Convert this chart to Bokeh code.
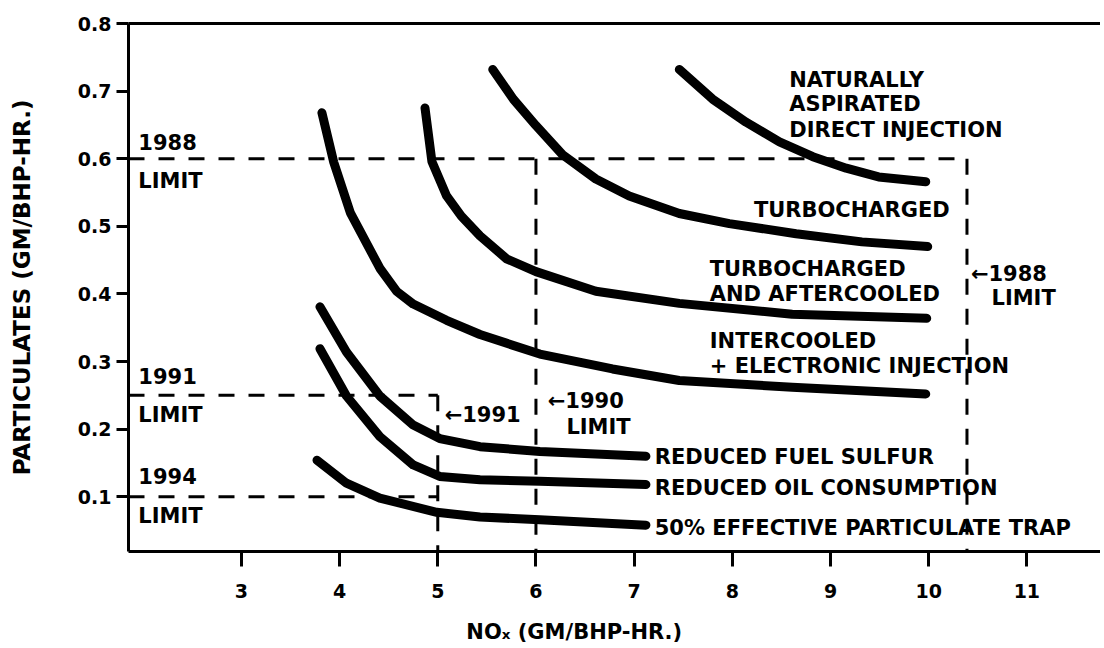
from bokeh.plotting import figure
from bokeh.models import Range1d, LinearAxis, FixedTicker, ColumnDataSource
from bokeh.core.properties import value
from bokeh.embed import file_html
from bokeh.resources import INLINE

# ---------------- data ----------------
X_TICKS = [3, 4, 5, 6, 7, 8, 9, 10, 11]
Y_TICKS = [0.1, 0.2, 0.3, 0.4, 0.5, 0.6, 0.7, 0.8]

na_x = [7.46, 7.80, 8.14, 8.48, 8.82, 9.16, 9.49, 9.97]
na_y = [0.732, 0.688, 0.654, 0.625, 0.603, 0.586, 0.573, 0.566]

tc_x = [5.56, 5.77, 6.00, 6.27, 6.61, 6.95, 7.46, 7.97, 8.65, 9.32, 9.99]
tc_y = [0.732, 0.688, 0.649, 0.606, 0.570, 0.545, 0.519, 0.504, 0.489, 0.477, 0.470]

tcac_x = [4.87, 4.94, 5.09, 5.24, 5.43, 5.70, 6.00, 6.61, 7.46, 8.61, 9.98]
tcac_y = [0.675, 0.596, 0.545, 0.515, 0.486, 0.452, 0.433, 0.404, 0.386, 0.370, 0.364]

ic_x = [3.82, 3.94, 4.11, 4.41, 4.58, 4.75, 5.09, 5.43, 6.04, 6.78, 7.46, 8.61, 9.97]
ic_y = [0.668, 0.595, 0.520, 0.438, 0.404, 0.385, 0.361, 0.340, 0.311, 0.289, 0.272, 0.262, 0.252]

sulfur_x = [3.80, 4.07, 4.41, 4.75, 5.02, 5.43, 6.04, 7.12]
sulfur_y = [0.381, 0.314, 0.249, 0.206, 0.186, 0.174, 0.167, 0.160]

oil_x = [3.80, 4.07, 4.41, 4.75, 5.02, 5.43, 6.04, 7.12]
oil_y = [0.319, 0.249, 0.189, 0.147, 0.130, 0.125, 0.123, 0.118]

trap_x = [3.77, 4.07, 4.41, 4.99, 5.43, 6.04, 7.12]
trap_y = [0.154, 0.120, 0.098, 0.077, 0.070, 0.066, 0.058]

# regulatory limits
LIMIT_1988_PM = 0.6
LIMIT_1988_NOX = 10.39
LIMIT_1990_NOX = 6.0
LIMIT_1991_PM = 0.25
LIMIT_1991_NOX = 5.0
LIMIT_1994_PM = 0.1

# annotation texts (data coordinates)
label_text = [
    "NATURALLY", "ASPIRATED", "DIRECT INJECTION",
    "TURBOCHARGED",
    "TURBOCHARGED", "AND AFTERCOOLED",
    "INTERCOOLED", "+ ELECTRONIC INJECTION",
    "\u21901988", "LIMIT",
    "1988", "LIMIT", "1991", "LIMIT", "1994", "LIMIT",
    "\u21901991",
    "\u21901990", "LIMIT",
    "REDUCED FUEL SULFUR", "REDUCED OIL CONSUMPTION", "50% EFFECTIVE PARTICULATE TRAP",
]
label_x = [
    8.58, 8.58, 8.58,
    8.22,
    7.77, 7.77,
    7.77, 7.77,
    10.43, 10.64,
    1.95, 1.95, 1.95, 1.95, 1.95, 1.95,
    5.07,
    6.12, 6.31,
    7.21, 7.21, 7.21,
]
label_y = [
    0.716, 0.681, 0.643,
    0.524,
    0.437, 0.400,
    0.330, 0.294,
    0.430, 0.394,
    0.625, 0.567, 0.279, 0.221, 0.130, 0.071,
    0.221,
    0.242, 0.203,
    0.159, 0.113, 0.054,
]

X_TITLE = "NO\u2093 (GM/BHP-HR.)"
Y_TITLE = "PARTICULATES (GM/BHP-HR.)"
# the original x title sits left of the frame centre: pad it on the right
X_TITLE_PAD = "\u00a0" * 11

FONT = "DejaVu Sans"

X0, X1 = 1.85, 11.75
Y0, Y1 = 0.019, 0.8

p = figure(width=1100, height=646,
           x_range=Range1d(X0, X1), y_range=Range1d(Y0, Y1),
           output_backend="svg", toolbar_location=None,
           min_border_left=128, min_border_right=0,
           min_border_top=23, min_border_bottom=94)
p.grid.visible = False
p.outline_line_color = None
p.background_fill_color = "white"
p.border_fill_color = "white"

for ax in (p.xaxis, p.yaxis):
    ax.axis_line_width = 3
    ax.axis_line_color = "black"
    ax.major_tick_line_width = 3
    ax.major_tick_line_color = "black"
    ax.major_tick_in = 0
    ax.minor_tick_line_color = None
    ax.major_label_text_font = FONT
    ax.major_label_text_font_style = "bold"
    ax.major_label_text_font_size = "19px"
    ax.major_label_text_color = "black"
    ax.axis_label_text_font = FONT
    ax.axis_label_text_font_style = "bold"
    ax.axis_label_text_color = "black"

p.xaxis.ticker = FixedTicker(ticks=X_TICKS)
p.yaxis.ticker = FixedTicker(ticks=Y_TICKS)
p.xaxis.major_tick_out = 15
p.xaxis.major_label_standoff = 17
p.xaxis.axis_label = X_TITLE + X_TITLE_PAD
p.xaxis.axis_label_text_font_size = "21px"
p.xaxis.axis_label_standoff = 19
p.yaxis.major_tick_out = 12
p.yaxis.major_label_standoff = 5
p.yaxis.axis_label = Y_TITLE
p.yaxis.axis_label_text_font_size = "23px"
p.yaxis.axis_label_standoff = 40

top = LinearAxis(ticker=FixedTicker(ticks=[]), axis_line_width=3,
                 major_tick_line_color=None, minor_tick_line_color=None,
                 major_label_text_font_size="0px")
p.add_layout(top, "above")

# curves
for xs, ys in [(na_x, na_y), (tc_x, tc_y), (tcac_x, tcac_y), (ic_x, ic_y),
               (sulfur_x, sulfur_y), (oil_x, oil_y), (trap_x, trap_y)]:
    p.line(xs, ys, line_width=9, line_color="black",
           line_cap="round", line_join="round")

# limit lines
dash = dict(line_width=3, line_color="black", line_dash="16 14")
p.line([X0, LIMIT_1988_NOX], [LIMIT_1988_PM, LIMIT_1988_PM], **dash)
p.line([LIMIT_1988_NOX, LIMIT_1988_NOX], [LIMIT_1988_PM, Y0], **dash)
p.line([LIMIT_1990_NOX, LIMIT_1990_NOX], [LIMIT_1988_PM, Y0], **dash)
p.line([X0, LIMIT_1991_NOX], [LIMIT_1991_PM, LIMIT_1991_PM], **dash)
p.line([LIMIT_1991_NOX, LIMIT_1991_NOX], [LIMIT_1991_PM, Y0], **dash)
p.line([X0, LIMIT_1991_NOX], [LIMIT_1994_PM, LIMIT_1994_PM], **dash)

src = ColumnDataSource(dict(x=label_x, y=label_y, text=label_text))
p.text(x="x", y="y", text="text", source=src,
       text_font=value(FONT), text_font_style="bold", text_font_size="21px",
       text_color="black", text_align="left", text_baseline="middle")

open("out.html", "w").write(file_html(p, INLINE))
